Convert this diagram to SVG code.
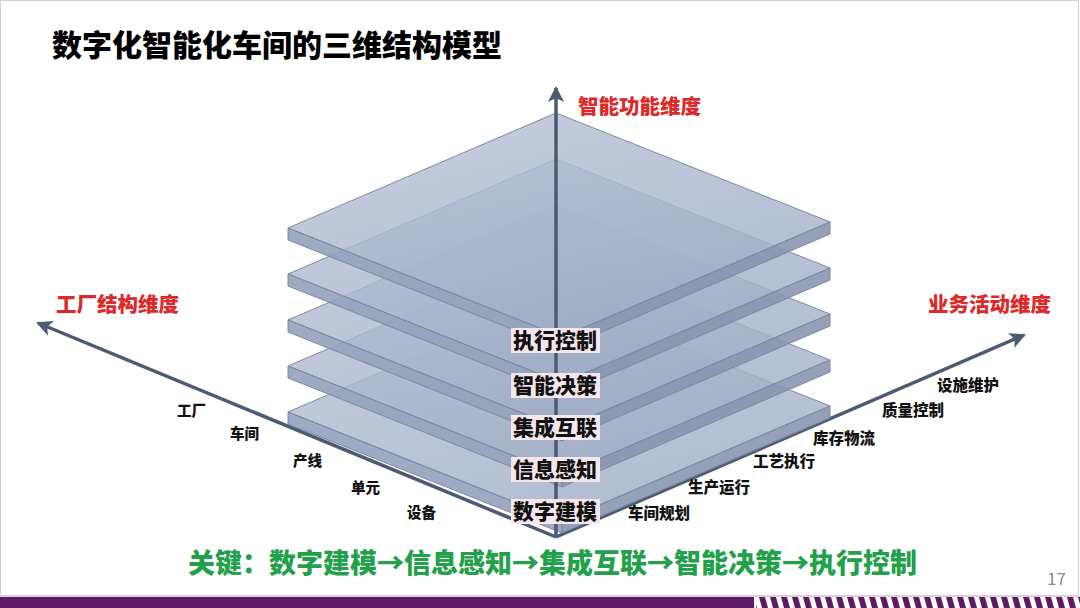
<svg xmlns="http://www.w3.org/2000/svg" width="1080" height="608" viewBox="0 0 1080 608">
<defs>
<style>
text{font-family:"Noto Sans CJK SC","Noto Sans",sans-serif;font-weight:700}
.title{font-size:30px;fill:#000;font-weight:900}
.dim{font-size:20.5px;fill:#dc2a2a;font-weight:900}
.tick{font-size:14.5px;fill:#111;font-weight:900}
.tickr{font-size:15.5px;fill:#111;font-weight:900}
.layer{font-size:21px;fill:#111;font-weight:900}
.lbg{fill:#f7e7ec}
.key{font-size:27px;fill:#22a04a;font-weight:900}
.top{fill:url(#topg);stroke:#7b88a1;stroke-width:1;fill-opacity:0.8}
.sl{fill:#95a2bc;fill-opacity:0.9;stroke:#7b88a1;stroke-width:1}
.sr{fill:#8996b1;fill-opacity:0.9;stroke:#7b88a1;stroke-width:1}
.axis{stroke:#4b5b72;stroke-width:3.5;fill:none}
</style>
<linearGradient id="topg" x1="0" y1="0" x2="0.6" y2="1">
<stop offset="0" stop-color="#b8c4d8"/>
<stop offset="1" stop-color="#9eacc4"/>
</linearGradient>
<marker id="ah" markerUnits="userSpaceOnUse" markerWidth="18" markerHeight="16" refX="14" refY="8" orient="auto">
<path d="M0,0 L16,8 L0,16 L4,8 Z" fill="#4b5b72"/>
</marker>
<pattern id="stripes" x="0" y="597" width="11" height="11" patternUnits="userSpaceOnUse">
<polygon points="0,0 6,0 9,11 3,11" fill="#5e1b62"/>
</pattern>
<g id="plate">
<polygon class="top" points="556,113 830,222 562,337 288,228"/>
<polygon class="sl" points="288,228 562,337 562,349 288,240"/>
<polygon class="sr" points="562,337 830,222 830,234 562,349"/>
</g>
</defs>
<rect x="0" y="0" width="1080" height="608" fill="#fff"/>
<rect x="0.5" y="0.5" width="1078" height="595" fill="none" stroke="#d0d0d0" stroke-width="1"/>

<text class="title" x="52" y="56">数字化智能化车间的三维结构模型</text>

<g id="connectors">
<line class="axis" x1="556" y1="537" x2="38" y2="323" marker-end="url(#ah)"/>
<line class="axis" x1="556" y1="537" x2="1024" y2="335" marker-end="url(#ah)"/>
</g>

<g id="plates">
<use href="#plate" transform="translate(0,184)"/>
<use href="#plate" transform="translate(0,138)"/>
<use href="#plate" transform="translate(0,92)"/>
<use href="#plate" transform="translate(0,46)"/>
<use href="#plate"/>
</g>

<g id="vertical-axis">
<line class="axis" x1="556" y1="535" x2="556" y2="88" marker-end="url(#ah)"/>
</g>

<g id="dim-labels">
<text class="dim" x="578" y="114">智能功能维度</text>
<text class="dim" x="56" y="312">工厂结构维度</text>
<text class="dim" x="928" y="312">业务活动维度</text>
</g>

<g id="layers">
<g id="layer-exec"><rect class="lbg" x="511" y="328" width="89" height="25"/><text class="layer" x="513" y="348">执行控制</text></g>
<g id="layer-decision"><rect class="lbg" x="511" y="373" width="89" height="25"/><text class="layer" x="513" y="393">智能决策</text></g>
<g id="layer-integration"><rect class="lbg" x="511" y="415" width="89" height="25"/><text class="layer" x="513" y="435">集成互联</text></g>
<g id="layer-sensing"><rect class="lbg" x="511" y="457" width="89" height="25"/><text class="layer" x="513" y="477">信息感知</text></g>
<g id="layer-modeling"><rect class="lbg" x="511" y="499" width="89" height="25"/><text class="layer" x="513" y="519">数字建模</text></g>
</g>

<g id="factory-ticks">
<text class="tick" x="177" y="416">工厂</text>
<text class="tick" x="230" y="439">车间</text>
<text class="tick" x="293" y="466">产线</text>
<text class="tick" x="351" y="493">单元</text>
<text class="tick" x="407" y="518">设备</text>
</g>

<g id="business-ticks">
<text class="tickr" x="937" y="391">设施维护</text>
<text class="tickr" x="882" y="416">质量控制</text>
<text class="tickr" x="813" y="444">库存物流</text>
<text class="tickr" x="753" y="467">工艺执行</text>
<text class="tickr" x="688" y="493">生产运行</text>
<text class="tickr" x="628" y="519">车间规划</text>
</g>

<text class="key" x="188" y="573">关键：数字建模→信息感知→集成互联→智能决策→执行控制</text>

<text x="1047" y="585" font-family="Liberation Sans, sans-serif" font-size="17" fill="#8a8a8a" style="font-weight:400">17</text>

<rect x="0" y="595.5" width="1080" height="1.5" fill="#e9c9e6"/>
<rect x="0" y="597" width="754" height="11" fill="#5e1b62"/>
<rect x="756" y="597" width="324" height="11" fill="url(#stripes)"/>
</svg>
